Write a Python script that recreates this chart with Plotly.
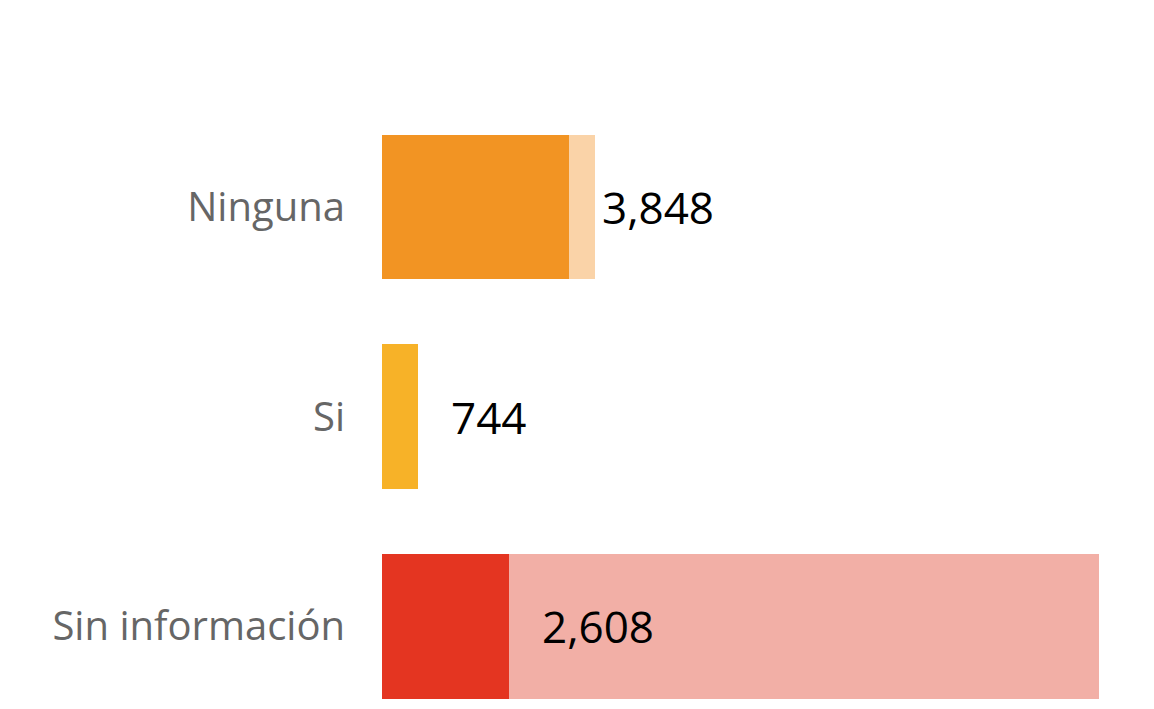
import plotly.graph_objects as go

categories = ["Ninguna", "Si", "Sin información"]
main_values = [3848, 744, 2608]
extra_values = [535, 0, 12125]
main_colors = ["#F29423", "#F7B228", "#E43521"]
extra_colors = ["#FAD3A8", "#FBE0A9", "#F2AFA6"]
value_labels = ["3,848", "744", "2,608"]

fig = go.Figure()
fig.add_trace(go.Bar(
    y=categories, x=main_values, orientation="h",
    marker=dict(color=main_colors, line=dict(width=0)),
    width=0.69, hoverinfo="skip", showlegend=False,
))
fig.add_trace(go.Bar(
    y=categories, x=extra_values, orientation="h",
    marker=dict(color=extra_colors, line=dict(width=0)),
    width=0.69, hoverinfo="skip", showlegend=False,
))

for cat, val, lab in zip(categories, main_values, value_labels):
    fig.add_annotation(
        x=val, y=cat, text=lab, showarrow=False,
        xanchor="left", yanchor="middle", xshift=31, yshift=0,
        font=dict(family="Open Sans", size=44, color="#000000"),
    )

fig.update_layout(
    barmode="stack",
    width=1146, height=701,
    margin=dict(l=374, r=0, t=0, b=0),
    paper_bgcolor="white", plot_bgcolor="white",
    xaxis=dict(range=[0, 15865], visible=False, fixedrange=True),
    yaxis=dict(
        type="category",
        range=[2.395, -0.9494],
        showgrid=False, zeroline=False, showline=False,
        ticks="", ticklabelstandoff=36,
        tickfont=dict(family="Open Sans", size=40, color="#666666"),
    ),
)

fig.write_html("out.html")
